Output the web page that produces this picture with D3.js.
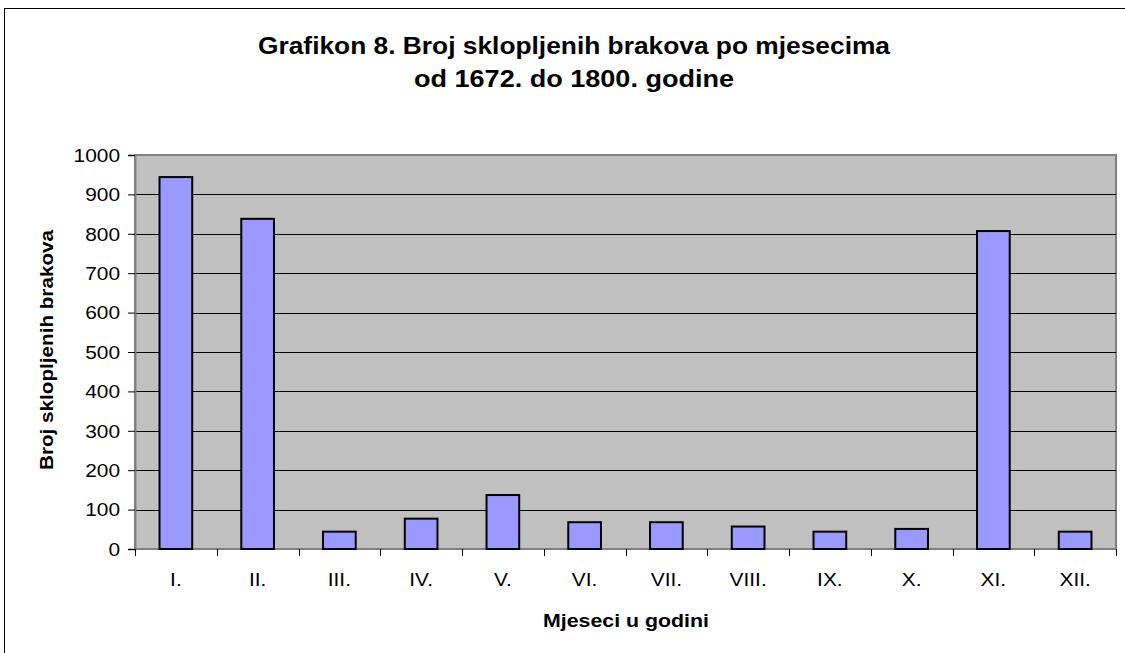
<!DOCTYPE html>
<html><head><meta charset="utf-8">
<script src="https://cdn.jsdelivr.net/npm/d3@7"></script>
<style>body{margin:0;background:#fff;}svg{display:block;font-family:"Liberation Sans",Arial,sans-serif;}</style>
</head><body>
<svg id="c" width="1125" height="653"></svg>
<script>
const months = ["I.","II.","III.","IV.","V.","VI.","VII.","VIII.","IX.","X.","XI.","XII."];
const marriages = [944, 838, 44, 77, 137, 68, 68, 57, 44, 51, 807, 44];
const yTicks = [0,100,200,300,400,500,600,700,800,900,1000];
const titleLines = ["Grafikon 8. Broj sklopljenih brakova po mjesecima","od 1672. do 1800. godine"];
const xTitle = "Mjeseci u godini";
const yTitle = "Broj sklopljenih brakova";

const svg = d3.select("#c");
const m = {left:135, right:1116, top:155, bottom:549};
const SX = 1.16;

svg.append("rect").attr("x",4.5).attr("y",8.5).attr("width",1130).attr("height",660)
  .attr("fill","#fff").attr("stroke","#000").attr("stroke-width",1);

const x = d3.scaleBand().domain(months).range([m.left,m.right]).paddingInner(0.6).paddingOuter(0.3);
const xb = d3.scaleBand().domain(months).range([m.left,m.right]);
const y = d3.scaleLinear().domain([0,1000]).range([m.bottom,m.top]);

svg.append("rect").attr("x",m.left).attr("y",m.top).attr("width",m.right-m.left).attr("height",m.bottom-m.top)
  .attr("fill","#c0c0c0").attr("stroke","#808080").attr("stroke-width",2);

svg.append("g").selectAll("line").data(yTicks.filter(d=>d>0&&d<1000)).join("line")
  .attr("x1",m.left).attr("x2",m.right).attr("y1",d=>Math.round(y(d))+0.5).attr("y2",d=>Math.round(y(d))+0.5)
  .attr("stroke","#000").attr("stroke-width",1);

// y axis
const ya = svg.append("g").attr("transform",`translate(${m.left},0)`)
  .call(d3.axisLeft(y).tickValues(yTicks).tickFormat(d3.format("d")).tickSize(7).tickPadding(6));
ya.select(".domain").attr("stroke","#808080").attr("stroke-width",2);
ya.selectAll(".tick line").attr("stroke","#000");
ya.selectAll(".tick text")
  .attr("x",0).attr("dy","0.35em").attr("font-size",18).attr("fill","#000")
  .attr("font-family","Liberation Sans, Arial, sans-serif")
  .attr("transform",`translate(-15,0) scale(${SX},1)`);

// x axis ticks at boundaries
const xa = svg.append("g");
xa.append("line").attr("x1",m.left).attr("x2",m.right).attr("y1",m.bottom).attr("y2",m.bottom).attr("stroke","#808080").attr("stroke-width",2);
const bounds = months.map(d=>xb(d)).concat([m.right]);
xa.selectAll("line.t").data(bounds).join("line").attr("class","t")
  .attr("x1",d=>Math.round(d)+0.5).attr("x2",d=>Math.round(d)+0.5).attr("y1",m.bottom).attr("y2",m.bottom+7).attr("stroke","#000");
xa.selectAll("text").data(months).join("text")
  .attr("transform",d=>`translate(${xb(d)+xb.bandwidth()/2},586) scale(${SX},1)`).attr("text-anchor","middle")
  .attr("font-size",18).text(d=>d);

// bars
svg.append("g").selectAll("rect").data(marriages).join("rect")
  .attr("x",(d,i)=>x(months[i])).attr("width",x.bandwidth())
  .attr("y",d=>y(d)).attr("height",d=>y(0)-y(d))
  .attr("fill","#9999ff").attr("stroke","#000").attr("stroke-width",2);

// titles
const tw = [632, 320];
svg.append("g").selectAll("text").data(titleLines).join("text")
  .attr("x",(d,i)=>574-tw[i]/2).attr("y",(d,i)=>54+i*33)
  .attr("textLength",(d,i)=>tw[i]).attr("lengthAdjust","spacingAndGlyphs")
  .attr("font-size",23).attr("font-weight","bold").text(d=>d);
svg.append("text").attr("x",626-83).attr("y",627).attr("textLength",166).attr("lengthAdjust","spacingAndGlyphs")
  .attr("font-size",18).attr("font-weight","bold").text(xTitle);
svg.append("text").attr("transform","translate(53,350) rotate(-90)").attr("x",-120).attr("y",0)
  .attr("textLength",240).attr("lengthAdjust","spacingAndGlyphs")
  .attr("font-size",18).attr("font-weight","bold").text(yTitle);
</script>
</body></html>
